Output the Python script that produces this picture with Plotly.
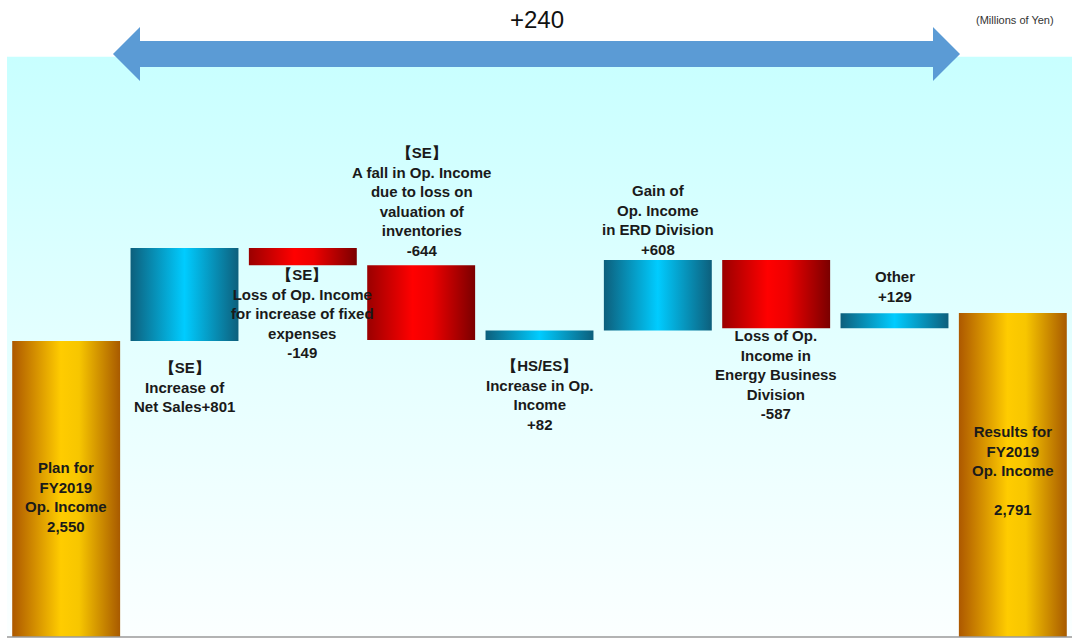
import plotly.graph_objects as go

# ---------------- data ----------------
categories = [
    "Plan for FY2019 Op. Income",
    "[SE] Increase of Net Sales",
    "[SE] Fixed expenses",
    "[SE] Inventory valuation",
    "[HS/ES] Op. Income",
    "ERD Division",
    "Energy Business Division",
    "Other",
    "Results for FY2019 Op. Income",
]
values = [2550, 801, -149, -644, 82, 608, -587, 129, 2791]
kinds = ["total", "delta", "delta", "delta", "delta", "delta", "delta", "delta", "total"]
labels = [
    "Plan for<br>FY2019<br>Op. Income<br>2,550",
    "【SE】<br>Increase of<br>Net Sales+801",
    "【SE】<br>Loss of Op. Income<br>for increase of fixed<br>expenses<br>-149",
    "【SE】<br>A fall in Op. Income<br>due to loss on<br>valuation of<br>inventories<br>-644",
    "【HS/ES】<br>Increase in Op.<br>Income<br>+82",
    "Gain of<br>Op. Income<br>in ERD Division<br>+608",
    "Loss of Op.<br>Income in<br>Energy Business<br>Division<br>-587",
    "Other<br>+129",
    "Results for<br>FY2019<br>Op. Income<br><br>2,791",
]
difference_label = "+240"
unit_label = "(Millions of Yen)"

# ---------------- style ----------------
FONT = "Liberation Sans, Arial, sans-serif"
BLUE = [[0, "#0d5f7c"], [0.5, "#00ccff"], [1, "#0d5f7c"]]
RED = [[0, "#9a0000"], [0.42, "#ff0000"], [0.6, "#ee0000"], [1, "#7a0000"]]
GOLD = [[0, "#ad5800"], [0.45, "#ffcc00"], [0.62, "#f7c600"], [1, "#a85a00"]]
HALF = 0.456
Y_MAX = 5488
BG_TOP = 5000

fig = go.Figure()

# background panel (light cyan gradient)
fig.add_trace(go.Scatter(
    x=[-0.5, 8.5, 8.5, -0.5, -0.5], y=[0, 0, BG_TOP, BG_TOP, 0],
    mode="lines", line=dict(width=0), fill="toself",
    fillgradient=dict(type="vertical",
                      colorscale=[[0, "#fbffff"], [0.5, "#e4ffff"], [1, "#c8ffff"]]),
    hoverinfo="skip", showlegend=False,
))

# bars
running = 0
anns = []
for i, (v, k, lab) in enumerate(zip(values, kinds, labels)):
    if k == "total":
        lo, hi = 0, v
        cs = GOLD
        running = v
    else:
        lo, hi = sorted([running, running + v])
        cs = BLUE if v > 0 else RED
        running += v
    fig.add_trace(go.Scatter(
        x=[i - HALF, i + HALF, i + HALF, i - HALF, i - HALF],
        y=[lo, lo, hi, hi, lo],
        mode="lines", line=dict(width=0), fill="toself",
        fillgradient=dict(type="horizontal", colorscale=cs),
        hoverinfo="skip", showlegend=False, name=categories[i],
    ))
    # label placement
    if k == "total":
        ay, anchor, shift = hi / 2, "middle", (-8 if i == 0 else 5)
    elif i == 1:
        ay, anchor, shift = lo, "top", -16
    elif i == 2:
        ay, anchor, shift = lo, "top", 1
    elif i == 3:
        ay, anchor, shift = hi, "bottom", 4
    elif i == 4:
        ay, anchor, shift = lo, "top", -15
    elif i == 5:
        ay, anchor, shift = hi, "bottom", 0
    elif i == 6:
        ay, anchor, shift = lo, "top", 3
    else:
        ay, anchor, shift = hi, "bottom", 6
    anns.append(dict(x=i, y=ay, xref="x", yref="y",
                     text="<b>" + lab.replace("<br>", "</b><br><b>") + "</b>",
                     showarrow=False,
                     yanchor=anchor, yshift=shift, align="center",
                     font=dict(family=FONT, size=15, color="#1a1a1a")))

# top annotations
anns.append(dict(x=(537 - 7) / 1065, y=1 - 20 / 637, xref="paper", yref="paper",
                 text=difference_label, showarrow=False, xanchor="center", yanchor="middle",
                 font=dict(family=FONT, size=24, color="#111111")))
anns.append(dict(x=(1015 - 7) / 1065, y=1 - 20 / 637, xref="paper", yref="paper",
                 text=unit_label, showarrow=False, xanchor="center", yanchor="middle",
                 font=dict(family=FONT, size=11, color="#333333")))

# double-headed block arrow (pixel geometry converted to paper coords)
def px(xp):
    return (xp - 7) / 1065

def py(yp):
    return 1 - yp / 637

pts = [(113, 54), (140, 27), (140, 41), (933, 41), (933, 27), (960, 54),
       (933, 81), (933, 67), (140, 67), (140, 81)]
path = "M " + " L ".join(f"{px(a):.5f},{py(b):.5f}" for a, b in pts) + " Z"
shapes = [
    dict(type="path", xref="paper", yref="paper", path=path,
         fillcolor="#5b9bd5", line=dict(width=0), layer="above"),
    dict(type="line", xref="paper", yref="paper", x0=0, x1=1, y0=0, y1=0,
         line=dict(color="#9a9a9a", width=1.5)),
]

fig.update_layout(
    width=1072, height=639,
    margin=dict(l=7, r=0, t=0, b=2),
    paper_bgcolor="white", plot_bgcolor="white",
    xaxis=dict(range=[-0.5, 8.5], visible=False, fixedrange=True),
    yaxis=dict(range=[0, Y_MAX], visible=False, fixedrange=True),
    annotations=anns, shapes=shapes, showlegend=False,
)

fig.write_html("out.html")
